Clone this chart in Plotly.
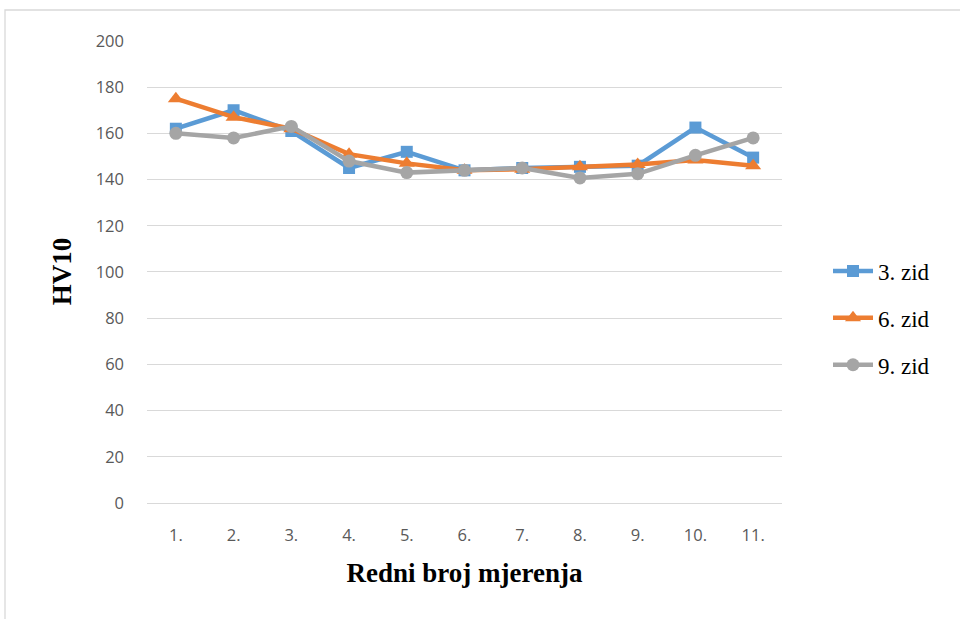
import plotly.graph_objects as go

categories = ["1.", "2.", "3.", "4.", "5.", "6.", "7.", "8.", "9.", "10.", "11."]
zid3 = [162, 170, 161, 145, 152, 144, 145, 145.5, 146, 162.5, 149.5]
zid6 = [175, 167, 162, 151, 147, 144, 144.5, 145.5, 146.5, 148.5, 146]
zid9 = [160, 158, 163, 148, 143, 144, 145, 140.7, 142.5, 150.5, 158]
y_ticks = [0, 20, 40, 60, 80, 100, 120, 140, 160, 180, 200]

series = [
    ("3. zid", zid3, "#5B9BD5", "square", 12),
    ("6. zid", zid6, "#ED7D31", "triangle-up", 14),
    ("9. zid", zid9, "#A5A5A5", "circle", 13),
]

fig = go.Figure()
for name, vals, color, sym, size in series:
    fig.add_trace(go.Scatter(
        x=categories, y=vals, name=name, mode="lines+markers",
        line=dict(color=color, width=4.5),
        marker=dict(symbol=sym, size=size, color=color),
        legendgroup=name,
    ))

W, H = 960, 619
L, R, T, B = 147, 178, 40, 116
pw, ph = W - L - R, H - T - B

fig.update_layout(
    width=W, height=H,
    margin=dict(l=L, r=R, t=T, b=B, autoexpand=False),
    paper_bgcolor="white", plot_bgcolor="white",
    showlegend=True,
    legend=dict(
        x=(828 - L) / pw, y=(T + ph - 318) / ph, xanchor="left", yanchor="middle",
        font=dict(family="Liberation Serif", size=23, color="#000000"),
        tracegroupgap=14, itemwidth=40,
    ),
    xaxis=dict(
        type="category", range=[-0.5, 10.5], automargin=False,
        showgrid=False, zeroline=False, showline=False,
        ticks="", tickfont=dict(family="Open Sans", size=16.5, color="#595959"),
        ticklabelstandoff=20,
        title=dict(text="<b>Redni broj mjerenja</b>",
                   font=dict(family="Liberation Serif", size=27, color="#000000"),
                   standoff=18),
    ),
    yaxis=dict(
        range=[0, 200.4], tickvals=y_ticks, automargin=False,
        showgrid=True, gridcolor="#D9D9D9", gridwidth=1.3,
        zeroline=True, zerolinecolor="#D9D9D9", zerolinewidth=1.3,
        showline=False, ticks="",
        tickfont=dict(family="Open Sans", size=16.5, color="#595959"),
        ticklabelstandoff=22,
        title=dict(text="<b>HV10</b>",
                   font=dict(family="Liberation Serif", size=27, color="#000000"),
                   standoff=16),
    ),
    shapes=[dict(
        type="rect", xref="paper", yref="paper",
        x0=(5 - L) / pw, x1=(965 - L) / pw,
        y0=(T + ph - 625) / ph, y1=(T + ph - 10) / ph,
        line=dict(color="#D9D9D9", width=1.3), fillcolor="rgba(0,0,0,0)", layer="below",
    )],
)

fig.write_html(
    "out.html",
    config={"displayModeBar": False},
    post_script="document.body.style.margin='0';document.body.style.overflow='hidden';",
)
